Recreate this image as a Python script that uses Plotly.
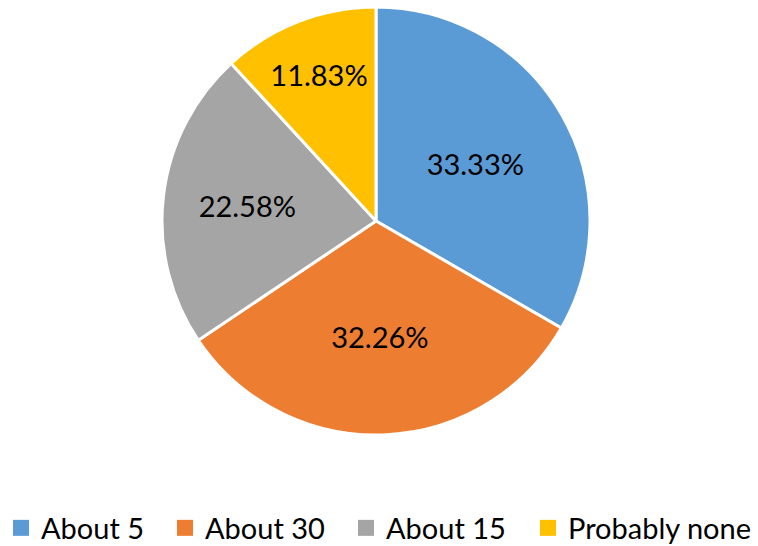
import plotly.graph_objects as go

categories = ["About 5", "About 30", "About 15", "Probably none"]
counts = [31, 30, 21, 11]
colors = ["#5B9BD5", "#ED7D31", "#A5A5A5", "#FFC000"]

FONT = "Lato"
W, H = 758, 546

fig = go.Figure()
fig.add_trace(go.Pie(
    labels=categories,
    values=counts,
    sort=False,
    direction="clockwise",
    rotation=0,
    marker=dict(colors=colors, line=dict(color="white", width=3)),
    texttemplate="%{percent:.2%}",
    textposition="inside",
    insidetextorientation="horizontal",
    textfont=dict(family=FONT, size=29, color="#000000"),
    domain=dict(x=[162/W, 590/W], y=[1-435/H, 1-7/H]),
    hoverinfo="label+percent",
    showlegend=False,
))

# legend entries: one small legend per category, spaced like the original
legend_ids = ["legend", "legend2", "legend3", "legend4"]
legend_left = [1, 165, 346, 528]  # px, left edge of each legend entry
for lab, col, lid in zip(categories, colors, legend_ids):
    fig.add_trace(go.Scatter(
        x=[None], y=[None], mode="markers", name=lab, legend=lid,
        marker=dict(symbol="square", size=16, color=col),
        hoverinfo="skip", showlegend=True,
    ))

legend_common = dict(
    orientation="h",
    xanchor="left",
    y=1-528/H, yanchor="middle",
    font=dict(family=FONT, size=29, color="#000000"),
    itemwidth=30,
    bgcolor="rgba(0,0,0,0)",
)

layout_legends = {lid: dict(legend_common, x=left/W) for lid, left in zip(legend_ids, legend_left)}

fig.update_layout(
    width=W, height=H,
    margin=dict(l=0, r=0, t=0, b=0, autoexpand=False),
    paper_bgcolor="white",
    plot_bgcolor="white",
    font=dict(family=FONT, size=29, color="#000000"),
    xaxis=dict(visible=False),
    yaxis=dict(visible=False),
    showlegend=True,
    **layout_legends,
)

fig.write_html("out.html", config={"displayModeBar": False},
               post_script="document.body.style.margin='0';")
